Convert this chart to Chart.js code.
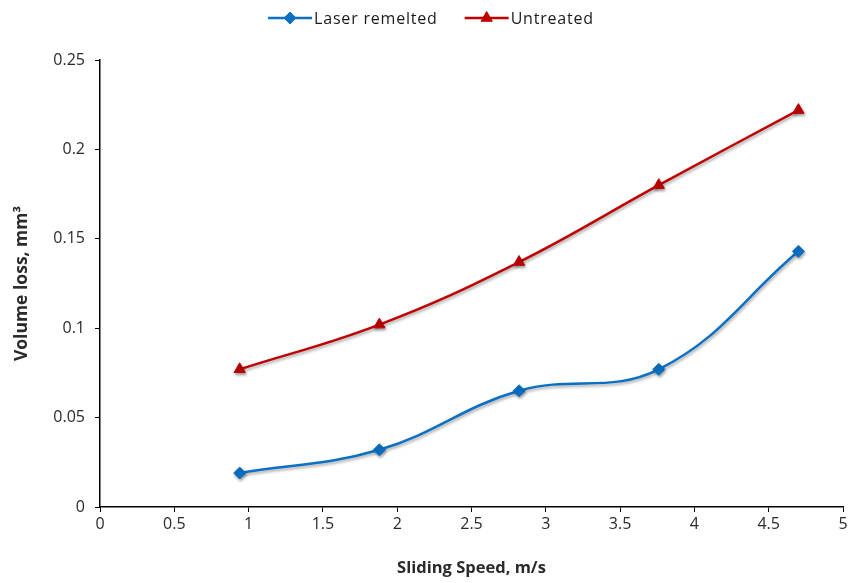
<!DOCTYPE html>
<html>
<head>
<meta charset="utf-8">
<script src="https://cdn.jsdelivr.net/npm/chart.js@4/dist/chart.umd.min.js"></script>
<style>
  html, body { margin: 0; padding: 0; background: #fff; }
  #wrap { width: 862px; height: 583px; }
</style>
</head>
<body>
<div id="wrap"><canvas id="c" width="862" height="583"></canvas></div>
<script>
// Sliding speed (m/s) and volume loss (mm³)
const speeds = [0.94, 1.88, 2.82, 3.76, 4.70];
const laserRemelted = [0.019, 0.032, 0.065, 0.077, 0.143];
const untreated = [0.077, 0.102, 0.137, 0.180, 0.222];
const seriesNames = ['Laser remelted', 'Untreated'];
const xTicks = [0, 0.5, 1, 1.5, 2, 2.5, 3, 3.5, 4, 4.5, 5];
const yTicks = [0, 0.05, 0.1, 0.15, 0.2, 0.25];

const BLUE = '#0A70C4';
const RED = '#C00000';
const FONT = "'Open Sans', 'Liberation Sans', sans-serif";

const toPoints = ys => speeds.map((x, i) => ({ x, y: ys[i] }));

// soft drop shadow under lines and markers
const shadowPlugin = {
  id: 'shadow',
  beforeDatasetsDraw(chart) {
    const ctx = chart.ctx;
    ctx.save();
    ctx.shadowColor = 'rgba(0,0,0,0.35)';
    ctx.shadowBlur = 3;
    ctx.shadowOffsetX = 1;
    ctx.shadowOffsetY = 2;
  },
  afterDatasetsDraw(chart) {
    chart.ctx.restore();
  }
};

// legend: line sample with marker, then label, centred at the top
const lineLegend = {
  id: 'lineLegend',
  afterDraw(chart) {
    const ctx = chart.ctx;
    const y = 18;
    const sample = 44, gap = 2, itemGap = 27;
    ctx.save();
    ctx.font = "16px " + FONT;
    ctx.letterSpacing = '0.8px';
    ctx.textBaseline = 'middle';
    const items = chart.data.datasets.map(ds => ({ ds, w: ctx.measureText(ds.label).width }));
    const total = items.reduce((s, it) => s + sample + gap + it.w, 0) + itemGap * (items.length - 1);
    let x = (chart.width - total) / 2;
    items.forEach(({ ds, w }) => {
      ctx.strokeStyle = ds.borderColor;
      ctx.fillStyle = ds.borderColor;
      ctx.lineWidth = 2.5;
      ctx.beginPath();
      ctx.moveTo(x, y);
      ctx.lineTo(x + sample, y);
      ctx.stroke();
      ctx.lineWidth = 1;
      Chart.helpers.drawPoint(ctx, {
        pointStyle: ds.pointStyle,
        radius: ds.pointRadius,
        borderWidth: 1,
        rotation: 0
      }, x + sample / 2, y);
      ctx.fillStyle = '#1a1a1a';
      ctx.fillText(ds.label, x + sample + gap, y + 1);
      x += sample + gap + w + itemGap;
    });
    ctx.restore();
  }
};

new Chart(document.getElementById('c'), {
  type: 'line',
  data: {
    datasets: [
      {
        label: seriesNames[0],
        data: toPoints(laserRemelted),
        borderColor: BLUE,
        backgroundColor: BLUE,
        pointBackgroundColor: BLUE,
        pointBorderColor: BLUE,
        pointStyle: 'rectRot',
        pointRadius: 6,
        pointBorderWidth: 1,
        borderWidth: 2.5,
        tension: 0.4
      },
      {
        label: seriesNames[1],
        data: toPoints(untreated),
        borderColor: RED,
        backgroundColor: RED,
        pointBackgroundColor: RED,
        pointBorderColor: RED,
        pointStyle: 'triangle',
        pointRadius: 6.5,
        pointBorderWidth: 1,
        borderWidth: 2.5,
        tension: 0.4
      }
    ]
  },
  options: {
    responsive: false,
    animation: false,
    devicePixelRatio: 1,
    layout: { padding: { top: 60, right: 19, left: 0, bottom: 0 } },
    plugins: {
      legend: { display: false },
      tooltip: { enabled: false }
    },
    scales: {
      x: {
        type: 'linear',
        min: 0,
        max: 5,
        afterBuildTicks: s => { s.ticks = xTicks.map(v => ({ value: v })); },
        afterFit: s => { s.height = 76; },
        grid: { display: true, drawOnChartArea: false, drawTicks: true, tickLength: 5, color: '#000', lineWidth: 1 },
        border: { display: true, color: '#000', width: 1.5 },
        ticks: {
          color: '#2a2a2a',
          font: { family: FONT, size: 16 },
          padding: 3,
          maxRotation: 0,
          autoSkip: false,
          callback: v => String(v)
        },
        title: {
          display: true,
          text: 'Sliding Speed, m/s',
          color: '#2a2a2a',
          font: { family: FONT, size: 16.5, weight: 'bold' },
          padding: { top: 0, bottom: 5 }
        }
      },
      y: {
        type: 'linear',
        min: 0,
        max: 0.25,
        afterBuildTicks: s => { s.ticks = yTicks.map(v => ({ value: v })); },
        afterFit: s => { s.width = 100; },
        grid: { display: true, drawOnChartArea: false, drawTicks: true, tickLength: 5, color: '#000', lineWidth: 1 },
        border: { display: true, color: '#000', width: 1.5 },
        ticks: {
          color: '#2a2a2a',
          font: { family: FONT, size: 16 },
          padding: 10,
          autoSkip: false,
          callback: v => String(+v.toFixed(2))
        },
        title: {
          display: true,
          text: 'Volume loss, mm³',
          color: '#2a2a2a',
          font: { family: FONT, size: 17.5, weight: 'bold' },
          padding: { top: 12, bottom: 0 }
        }
      }
    }
  },
  plugins: [shadowPlugin, lineLegend]
});
</script>
</body>
</html>
